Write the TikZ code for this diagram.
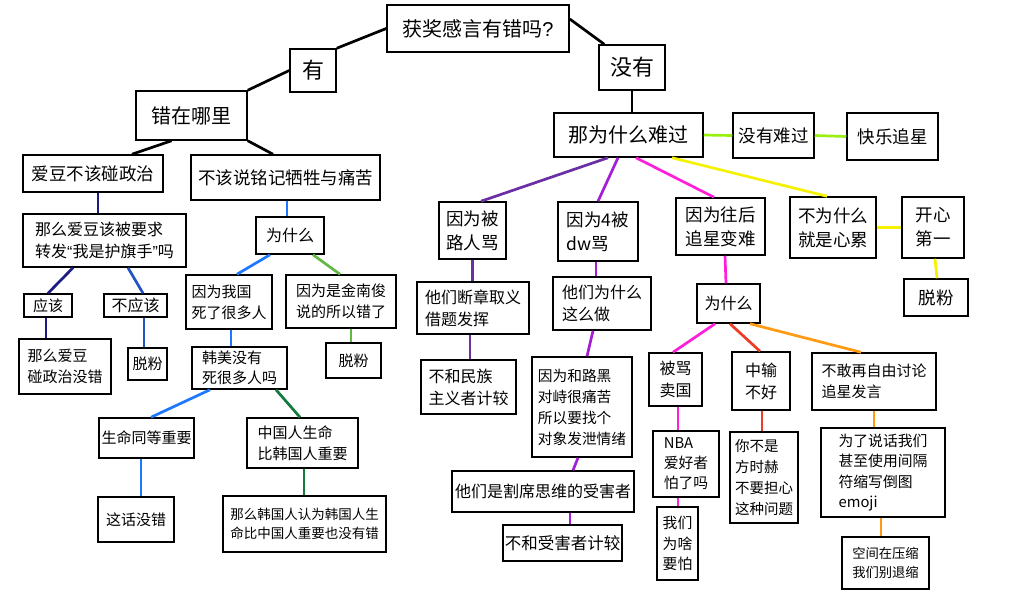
\documentclass[tikz,border=0pt]{standalone}
\usepackage{fontspec}
\setmainfont{Noto Sans CJK SC}
\newfontfamily\latinfont{Liberation Sans}
\usepackage{tikz}
\usetikzlibrary{calc}
\definecolor{navy}{HTML}{1C1C82}
\definecolor{midblue}{HTML}{2352C2}
\definecolor{brightblue}{HTML}{1E78FF}
\definecolor{leaf}{HTML}{62B845}
\definecolor{forest}{HTML}{127A3A}
\definecolor{lime}{HTML}{9AF00E}
\definecolor{sun}{HTML}{F5F200}
\definecolor{plum}{HTML}{6A2FA2}
\definecolor{violet}{HTML}{A31ED6}
\definecolor{pink}{HTML}{FF1FDA}
\definecolor{redline}{HTML}{EE3B25}
\definecolor{amber}{HTML}{FF9A12}
\tikzset{
  box/.style={draw=black, line width=1.5pt, fill=white, inner sep=0pt, align=left},
  sz/.style 2 args={minimum width=#1pt, minimum height=#2pt},
  big/.style={font=\fontsize{20}{26}\selectfont},
  huge/.style={font=\fontsize{22}{28}\selectfont},
  mid/.style={font=\fontsize{17.5}{24}\selectfont},
  txt/.style={font=\fontsize{16}{22}\selectfont},
  sml/.style={font=\fontsize{15}{21}\selectfont},
  tiny/.style={font=\fontsize{13.5}{19}\selectfont},
  link/.style={line width=2.7pt},
}
\begin{document}
\begin{tikzpicture}[x=1pt,y=-1pt]
  \fill[white] (0,0) rectangle (1024,608);
  \useasboundingbox (0,0) rectangle (1024,608);

  % top of the tree
  \node[box,big,sz={182}{47}] (root) at (478,28.5) {获奖感言有错吗{\latinfont ?}};
  \node[box,huge,sz={46}{43}] (you) at (313,70.5) {有};
  \node[box,huge,sz={66}{45}] (no) at (632,67.5) {没有};
  \node[box,big,sz={111}{49}] (where) at (191.5,115.5) {错在哪里};
  \node[box,big,sz={149}{44}] (sad) at (628.5,135) {那为什么难过};

  % left side
  \node[box,mid,sz={140}{37}] (idol) at (93,173.5) {爱豆不该碰政治};
  \node[box,mid,sz={189}{45}] (remember) at (285.5,177.5) {不该说铭记牺牲与痛苦};
  \node[box,txt,sz={163}{53}] (flag) at (104.5,240.5) {那么爱豆该被要求\\转发{\latinfont “}我是护旗手{\latinfont ”}吗};
  \node[box,sml,sz={48}{23}] (should) at (48,305.5) {应该};
  \node[box,txt,sz={63}{23}] (shouldnot) at (135.5,305.5) {不应该};
  \node[box,sml,sz={92}{55}] (fine) at (65,366.5) {那么爱豆\\碰政治没错};
  \node[box,sml,sz={39}{32}] (quitA) at (147.5,364) {脱粉};
  \node[box,txt,sz={68}{37}] (whyA) at (290,235.5) {为什么};
  \node[box,sml,sz={86}{54}] (died) at (229,302) {因为我国\\死了很多人};
  \node[box,sml,sz={110}{53}] (rm) at (341,301.5) {因为是金南俊\\说的所以错了};
  \node[box,sml,sz={55}{35}] (quitB) at (353.5,360.5) {脱粉};
  \node[box,font=\fontsize{15}{20}\selectfont,sz={95}{42}] (usa) at (239.5,368) {韩美没有\\死很多人吗};
  \node[box,sml,sz={95}{40}] (equal) at (146.5,438) {生命同等重要};
  \node[box,sml,sz={111}{50}] (cnfirst) at (302.5,443) {中国人生命\\比韩国人重要};
  \node[box,sml,sz={76}{45}] (right) at (136,519.5) {这话没错};
  \node[box,tiny,sz={163}{56}] (krfirst) at (304.5,524) {那么韩国人认为韩国人生\\命比中国人重要也没有错};

  % right side
  \node[box,mid,sz={81}{45}] (notsad) at (773.5,135.5) {没有难过};
  \node[box,mid,sz={91}{47}] (happy) at (892.5,136.5) {快乐追星};
  \node[box,mid,sz={86}{61}] (tired) at (833,227.5) {不为什么\\就是心累};
  \node[box,mid,sz={62}{61}] (fun) at (933,227.5) {开心\\第一};
  \node[box,mid,sz={64}{37}] (quitC) at (936,297.5) {脱粉};
  \node[box,mid,sz={67}{57}] (scolded) at (472.5,230.5) {因为被\\路人骂};
  \node[box,mid,sz={80}{59}] (dw) at (598,231.5) {因为4被\\dw骂};
  \node[box,mid,sz={89}{57}] (harder) at (720.5,226.5) {因为往后\\追星变难};
  \node[box,txt,sz={112}{52}] (pretext) at (473,308) {他们断章取义\\借题发挥};
  \node[box,txt,sz={98}{53}] (whydo) at (602,303.5) {他们为什么\\这么做};
  \node[box,txt,sz={95}{54}] (nation) at (468.5,387) {不和民族\\主义者计较};
  \node[box,font=\fontsize{14.7}{21}\selectfont,sz={100}{100}] (vent) at (582,407) {因为和路黑\\对峙很痛苦\\所以要找个\\对象发泄情绪};
  \node[box,txt,sz={182}{41}] (victim) at (543,491.5) {他们是割席思维的受害者};
  \node[box,font=\fontsize{16.5}{22}\selectfont,sz={119}{36}] (ignore) at (562.5,543) {不和受害者计较};
  \node[box,txt,sz={63}{39}] (whyB) at (728.5,303.5) {为什么};
  \node[box,txt,sz={53}{53}] (traitor) at (675.5,379.5) {被骂\\卖国};
  \node[box,txt,sz={58}{58}] (lose) at (761,381) {中输\\不好};
  \node[box,sml,sz={124}{57}] (speech) at (874,381.5) {不敢再自由讨论\\追星发言};
  \node[box,font=\fontsize{14.8}{20}\selectfont,sz={66}{66}] (nba) at (686,464) {NBA\\爱好者\\怕了吗};
  \node[box,font=\fontsize{14.8}{20.5}\selectfont,sz={41}{73}] (afraid) at (677.5,543.5) {我们\\为啥\\要怕};
  \node[box,font=\fontsize{14.5}{21}\selectfont,sz={68}{91}] (bang) at (764,477.5) {你不是\\方时赫\\不要担心\\这种问题};
  \node[box,font=\fontsize{14.8}{20.5}\selectfont,sz={124}{89}] (emoji) at (883,472.5) {为了说话我们\\甚至使用间隔\\符缩写倒图\\emoji};
  \node[box,font=\fontsize{13.3}{19}\selectfont,sz={87}{52}] (shrink) at (885.5,563) {空间在压缩\\我们别退缩};

  % connectors
  \draw[link] (root.west) -- (you.north east);
  \draw[link] (you.west) -- (where.north east);
  \draw[link] ([xshift=-20]where.south) -- ([xshift=39]idol.north);
  \draw[link] (where.south east) -- ([xshift=-12.5]remember.north);
  \draw[link] ([yshift=9.5]root.east) -- ([xshift=6]no.north west);
  \draw[link] (no.south) -- (no.south |- sad.north);

  \draw[link,navy] ([xshift=5]idol.south) -- ([xshift=-6.5]flag.north);
  \draw[link,navy] ([xshift=-31.5]flag.south) -- (should.north);
  \draw[link,navy] ([xshift=-2]should.south) -- ([xshift=-19]fine.north);
  \draw[link,midblue] ([xshift=23.5]flag.south) -- ([xshift=7.5]shouldnot.north);
  \draw[link,midblue] ([xshift=8.5]shouldnot.south) -- ([xshift=-3.5]quitA.north);

  \draw[link,brightblue] ([xshift=1.5]remember.south) -- ([xshift=-3]whyA.north);
  \draw[link,brightblue] ([xshift=-20]whyA.south) -- ([xshift=8]died.north);
  \draw[link,brightblue] ([xshift=2]died.south) -- ([xshift=-8.5]usa.north);
  \draw[link,brightblue] ([xshift=-29.5]usa.south) -- ([xshift=4.5]equal.north);
  \draw[link,brightblue] ([xshift=-5.5]equal.south) -- ([xshift=5]right.north);
  \draw[link,leaf] ([xshift=23]whyA.south) -- ([xshift=-1]rm.north);
  \draw[link,leaf] ([xshift=10]rm.south) -- ([xshift=-2.5]quitB.north);
  \draw[link,forest] ([xshift=36.5]usa.south) -- ([xshift=-2.5]cnfirst.north);
  \draw[link,forest] ([xshift=1.5]cnfirst.south) -- ([xshift=-0.5]krfirst.north);

  \draw[link,lime] (sad.east) -- (notsad.west);
  \draw[link,lime] (notsad.east) -- (happy.west);
  \draw[link,sun] ([xshift=43.5]sad.south) -- ([xshift=-6]tired.north);
  \draw[link,sun] (tired.east) -- (fun.west);
  \draw[link,sun] ([xshift=2]fun.south) -- ([xshift=1]quitC.north);

  \draw[link,plum] ([xshift=-20.5]sad.south) -- ([xshift=8.5]scolded.north);
  \draw[link,plum] (scolded.south) -- (scolded.south |- pretext.north);
  \draw[link,plum] ([xshift=-3]pretext.south) -- ([xshift=-3]pretext.south |- nation.north);
  \draw[link,violet] ([xshift=-10.5]sad.south) -- (dw.north);
  \draw[link,violet] ([xshift=-2]dw.south) -- ([xshift=-6]whydo.north);
  \draw[link,violet] ([xshift=-9]whydo.south) -- ([xshift=5]vent.north);
  \draw[link,violet] ([xshift=-4]vent.south) -- ([xshift=30]victim.north);
  \draw[link,violet] ([xshift=27]victim.south) -- ([xshift=7.5]ignore.north);

  \draw[link,pink] ([xshift=7.5]sad.south) -- ([xshift=-6.5]harder.north);
  \draw[link,pink] ([xshift=4.5]harder.south) -- ([xshift=-2.5]whyB.north);
  \draw[link,pink] ([xshift=-13.5]whyB.south) -- ([xshift=-2.5]traitor.north);
  \draw[link,pink] ([xshift=2.5]traitor.south) -- ([xshift=-8]nba.north);
  \draw[link,pink] ([xshift=-8]nba.south) -- ([xshift=0.5]afraid.north);
  \draw[link,redline] ([xshift=1.5]whyB.south) -- ([xshift=-1]lose.north);
  \draw[link,redline] ([xshift=1]lose.south) -- ([xshift=-2]bang.north);
  \draw[link,amber] ([xshift=21.5]whyB.south) -- ([xshift=-13]speech.north);
  \draw[link,amber] (speech.south) -- ([xshift=-9]emoji.north);
  \draw[link,amber] ([xshift=-2]emoji.south) -- ([xshift=-4.5]shrink.north);
\end{tikzpicture}
\end{document}
